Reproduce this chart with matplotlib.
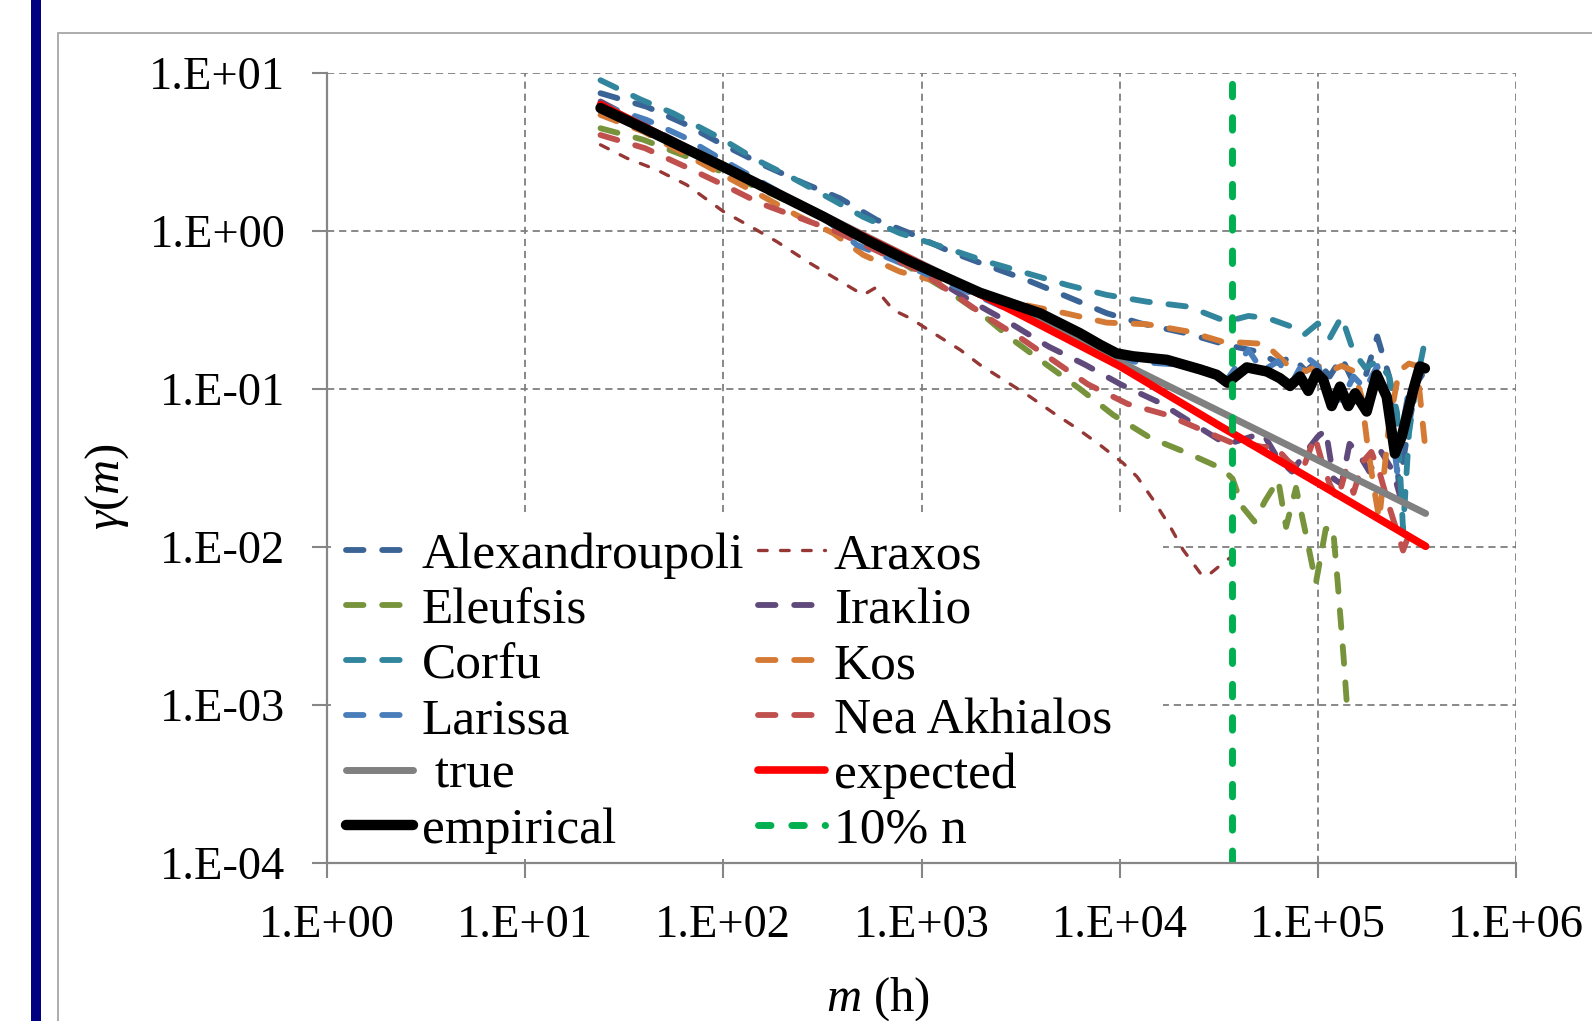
import numpy as np
import matplotlib
matplotlib.use('Agg')
import matplotlib.pyplot as plt
from matplotlib.patches import Rectangle
from matplotlib.ticker import FixedLocator, FuncFormatter, NullLocator

plt.rcParams['font.family'] = ['Liberation Serif', 'DejaVu Serif']
plt.rcParams['mathtext.fontset'] = 'custom'
plt.rcParams['mathtext.rm'] = 'Liberation Serif'
plt.rcParams['mathtext.it'] = 'Liberation Serif:italic'

# ---- data (climacogram, m in hours) ----
alex_m = [24, 41, 62.8, 100, 159, 254, 388, 594, 875, 1393, 2213, 3396, 5408, 8590, 12650, 21780,
          34760, 49090, 63100, 74130, 87100, 100000, 114800, 131800, 151400, 173800, 199500,
          229100, 257000, 288400, 316200, 346700]
alex_g = [7.45, 6.12, 4.81, 3.51, 2.62, 2.01, 1.61, 1.175, 0.968, 0.741, 0.596, 0.49, 0.385, 0.302,
          0.261, 0.225, 0.19, 0.173, 0.146, 0.16, 0.13, 0.15, 0.12, 0.158, 0.11, 0.12, 0.215, 0.12,
          0.024, 0.06, 0.11, 0.13]

araxos_m = [24, 32.6, 46.1, 65.3, 100, 147, 186, 274, 403, 508, 582, 721, 875, 1148, 1567, 1977,
            2692, 3524, 4634, 6067, 7943, 10400, 12250, 14720, 17950, 20890, 25470, 27480, 33190, 36730]
araxos_g = [3.51, 2.89, 2.44, 1.96, 1.33, 1.016, 0.857, 0.625, 0.468, 0.394, 0.435, 0.316, 0.281,
            0.226, 0.177, 0.142, 0.111, 0.0895, 0.0705, 0.0565, 0.0443, 0.034, 0.0278, 0.02, 0.0135,
            0.0096, 0.00685, 0.0065, 0.0079, 0.0087]

eleu_m = [24, 39.5, 65.3, 112, 373, 1340, 2042, 2884, 4295, 6310, 9268, 14290, 21880, 33110, 37150,
          41690, 47860, 54200, 63100, 69180, 77620, 87100, 97720, 109600, 119100, 125900, 134900, 141300]
eleu_g = [4.47, 3.78, 2.96, 2.21, 1.12, 0.424, 0.294, 0.205, 0.142, 0.1, 0.0686, 0.049, 0.0394, 0.0312,
          0.027, 0.0179, 0.0145, 0.0196, 0.0266, 0.0134, 0.0237, 0.012, 0.0059, 0.013, 0.0135, 0.006,
          0.002, 0.00087]

irak_m = [24, 100, 316, 1000, 1841, 2805, 4365, 6683, 10160, 16000, 24040, 34670, 52720, 63100, 74130,
          87100, 100000, 109600, 120200, 131800, 144500, 158500, 182000, 208900, 239900, 263000]
irak_g = [6.6, 2.57, 1.26, 0.562, 0.351, 0.261, 0.186, 0.1426, 0.1067, 0.0817, 0.0593, 0.0445, 0.0527,
          0.036, 0.03, 0.04, 0.05, 0.055, 0.027, 0.025, 0.045, 0.04, 0.03, 0.04, 0.03, 0.02]

corfu_m = [24, 38, 55.7, 100, 147, 217, 345, 507, 778, 1340, 2133, 3396, 5408, 8590, 13710, 22230,
           34670, 44670, 56230, 72440, 85110, 100000, 114800, 131800, 151400, 173800, 199500, 229100,
           251200, 269200, 288400, 316200, 346700]
corfu_g = [9.0, 6.82, 5.57, 3.78, 2.82, 2.21, 1.61, 1.23, 0.968, 0.778, 0.64, 0.541, 0.456, 0.394,
           0.357, 0.332, 0.267, 0.29, 0.28, 0.25, 0.22, 0.26, 0.21, 0.287, 0.172, 0.136, 0.15, 0.12,
           0.0706, 0.0128, 0.0527, 0.114, 0.2]

kos_m = [24, 39.5, 92.7, 159, 234, 359, 508, 778, 2173, 3327, 5297, 8590, 13710, 22230, 32730, 54080,
         72110, 87100, 100000, 114800, 131800, 151400, 166000, 177800, 190500, 204200, 229100, 257000,
         288400, 316200, 346700]
kos_g = [5.43, 4.26, 2.38, 1.65, 1.26, 0.968, 0.706, 0.553, 0.394, 0.34, 0.302, 0.263, 0.257, 0.231,
         0.2, 0.193, 0.138, 0.13, 0.14, 0.13, 0.14, 0.13, 0.09, 0.045, 0.025, 0.015, 0.06, 0.13, 0.145,
         0.14, 0.045]

lar_m = [24, 41, 62.8, 92.7, 316, 471, 721, 1995, 6310, 11720, 20940, 28580, 34670, 44670, 52480,
         63100, 74130, 87100, 100000, 114800, 131800, 151400, 173800, 199500, 229100, 251200, 269200, 288400]
lar_g = [6.3, 5.05, 3.95, 2.96, 1.23, 0.817, 0.656, 0.38, 0.2, 0.149, 0.142, 0.132, 0.114, 0.177, 0.13,
         0.15, 0.11, 0.16, 0.14, 0.09, 0.085, 0.12, 0.10, 0.14, 0.08, 0.03, 0.06, 0.10]

nea_m = [24, 40.3, 64, 100, 153, 234, 373, 1000, 2138, 3162, 4645, 6918, 10960, 17260, 36060, 44670,
         52480, 61090, 70790, 83180, 96600, 104700, 114800, 125900, 138000, 151400, 169800, 186200,
         204200, 229100, 269200, 288400]
nea_g = [4.05, 3.34, 2.56, 1.96, 1.5, 1.23, 0.991, 0.55, 0.285, 0.21, 0.151, 0.107, 0.0805, 0.0686,
         0.0462, 0.045, 0.043, 0.043, 0.035, 0.03, 0.05, 0.035, 0.025, 0.02, 0.03, 0.022, 0.035, 0.04,
         0.03, 0.018, 0.0095, 0.012]

true_m = [24, 350000]
true_g = [6.3, 0.0163]

exp_m = [24, 100, 316, 1000, 3162, 10000, 31620, 100000, 350000]
exp_g = [6.31, 2.54, 1.245, 0.61, 0.295, 0.1396, 0.0589, 0.0254, 0.0101]

emp_m = [24, 38, 100, 186, 320, 528, 841, 1970, 4000, 6300, 8000, 9660, 11700, 17300, 25500, 30900,
         35000, 43800, 55400, 64400, 72400, 81300, 89500, 98600, 106600, 117500, 129400, 142600, 154200,
         176400, 198000, 222500, 245000, 265000, 286000, 303000, 327500, 347000]
emp_g = [6.0, 4.58, 2.55, 1.73, 1.23, 0.877, 0.656, 0.407, 0.3, 0.2255, 0.19, 0.168, 0.161, 0.153,
         0.133, 0.123, 0.1096, 0.137, 0.129, 0.117, 0.1045, 0.120, 0.0973, 0.126, 0.114, 0.078, 0.1035,
         0.078, 0.094, 0.072, 0.123, 0.0895, 0.039, 0.050, 0.0738, 0.0986, 0.139, 0.135]

m_10pct = 36700

W, H = 1592, 1021
fig = plt.figure(figsize=(W / 100, H / 100), dpi=100)

# page decorations: navy bar and grey chart frame
fig.add_artist(Rectangle((31 / W, 0), 10 / W, 1, transform=fig.transFigure,
                         facecolor='#000080', edgecolor='none'))
fig.add_artist(Rectangle((58 / W, -0.3), 1.0, 1 - 33 / H + 0.3, transform=fig.transFigure,
                         fill=False, edgecolor='#A6A6A6', lw=1.3))

ax = fig.add_axes([327 / W, 1 - 863 / H, (1516 - 327) / W, (863 - 73) / H])
ax.set_xscale('log')
ax.set_yscale('log')
ax.set_xlim(1, 1e6)
ax.set_ylim(1e-4, 1e1)

dash = (3.0, 3.2)
slw = 4.2
stations = [
    ('Alexandroupoli', alex_m, alex_g, '#3B6496', slw, dash),
    ('Araxos', araxos_m, araxos_g, '#953735', 2.4, (2.6, 4.0)),
    ('Eleufsis', eleu_m, eleu_g, '#77933C', slw, dash),
    ('Iraκlio', irak_m, irak_g, '#604A7B', slw, dash),
    ('Corfu', corfu_m, corfu_g, '#31859C', slw, dash),
    ('Kos', kos_m, kos_g, '#D47A35', slw, dash),
    ('Larissa', lar_m, lar_g, '#4A7EBB', slw, dash),
    ('Nea Akhialos', nea_m, nea_g, '#C0504D', slw, dash),
]
h = {}
for name, m, g, c, lw, d in stations:
    h[name], = ax.plot(m, g, color=c, lw=lw, dashes=d, dash_capstyle='round',
                       dash_joinstyle='round', label=name)

h['true'], = ax.plot(true_m, true_g, color='#808080', lw=5, solid_capstyle='round')
h['expected'], = ax.plot(exp_m, exp_g, color='#FF0000', lw=5.5, solid_capstyle='round')
h['empirical'], = ax.plot(emp_m, emp_g, color='black', lw=7.5, solid_capstyle='round',
                          solid_joinstyle='round')
h['10'] = ax.axvline(m_10pct, color='#00B050', lw=5, dashes=(1.8, 3.0), dash_capstyle='round')

# axes styling
for s in ['top', 'right']:
    ax.spines[s].set_visible(False)
for s in ['left', 'bottom']:
    ax.spines[s].set_color('#868686')
    ax.spines[s].set_linewidth(1.6)

ax.xaxis.set_major_locator(FixedLocator([10.0 ** k for k in range(0, 7)]))
ax.yaxis.set_major_locator(FixedLocator([10.0 ** k for k in range(-4, 2)]))
ax.xaxis.set_minor_locator(NullLocator())
ax.yaxis.set_minor_locator(NullLocator())
fmt = FuncFormatter(lambda v, p: "1.E%+03d" % int(round(np.log10(v))))
ax.xaxis.set_major_formatter(fmt)
ax.yaxis.set_major_formatter(fmt)
ax.tick_params(which='major', direction='out', length=11, width=1.5, color='#868686',
               labelsize=33.5, pad=19)
ax.grid(True, which='major', color='#7F7F7F', lw=1.3, dashes=(4, 2.7))

# white legend area hides grid lines like the original
ax.add_patch(Rectangle((331 / W, 1 - 859 / H), (1163 - 331) / W, (859 - 512) / H,
                       transform=fig.transFigure, facecolor='white', edgecolor='none',
                       zorder=1.9, clip_on=False))

order = ['Alexandroupoli', 'Eleufsis', 'Corfu', 'Larissa', 'true', 'empirical',
         'Araxos', 'Iraκlio', 'Kos', 'Nea Akhialos', 'expected', '10']
labels = ['Alexandroupoli', 'Eleufsis', 'Corfu', 'Larissa', ' true', 'empirical',
          'Araxos', 'Iraκlio', 'Kos', 'Nea Akhialos', 'expected', '10% n']
ax.legend([h[k] for k in order], labels, ncol=2, loc='upper left',
          bbox_to_anchor=(336 / W, 1 - 522 / H), bbox_transform=fig.transFigure,
          frameon=False, fontsize=37, handlelength=1.3, handletextpad=0.17,
          columnspacing=0.27, labelspacing=0.155, borderpad=0.2, borderaxespad=0)

fig.text(107 / W, 1 - 487 / H, r'$\gamma(m)$', rotation=90, ha='center', va='center', fontsize=35)
fig.text(878 / W, 1 - 1011 / H, r'$m$ (h)', ha='center', va='baseline', fontsize=35)

fig.savefig('out.png', dpi=100)
